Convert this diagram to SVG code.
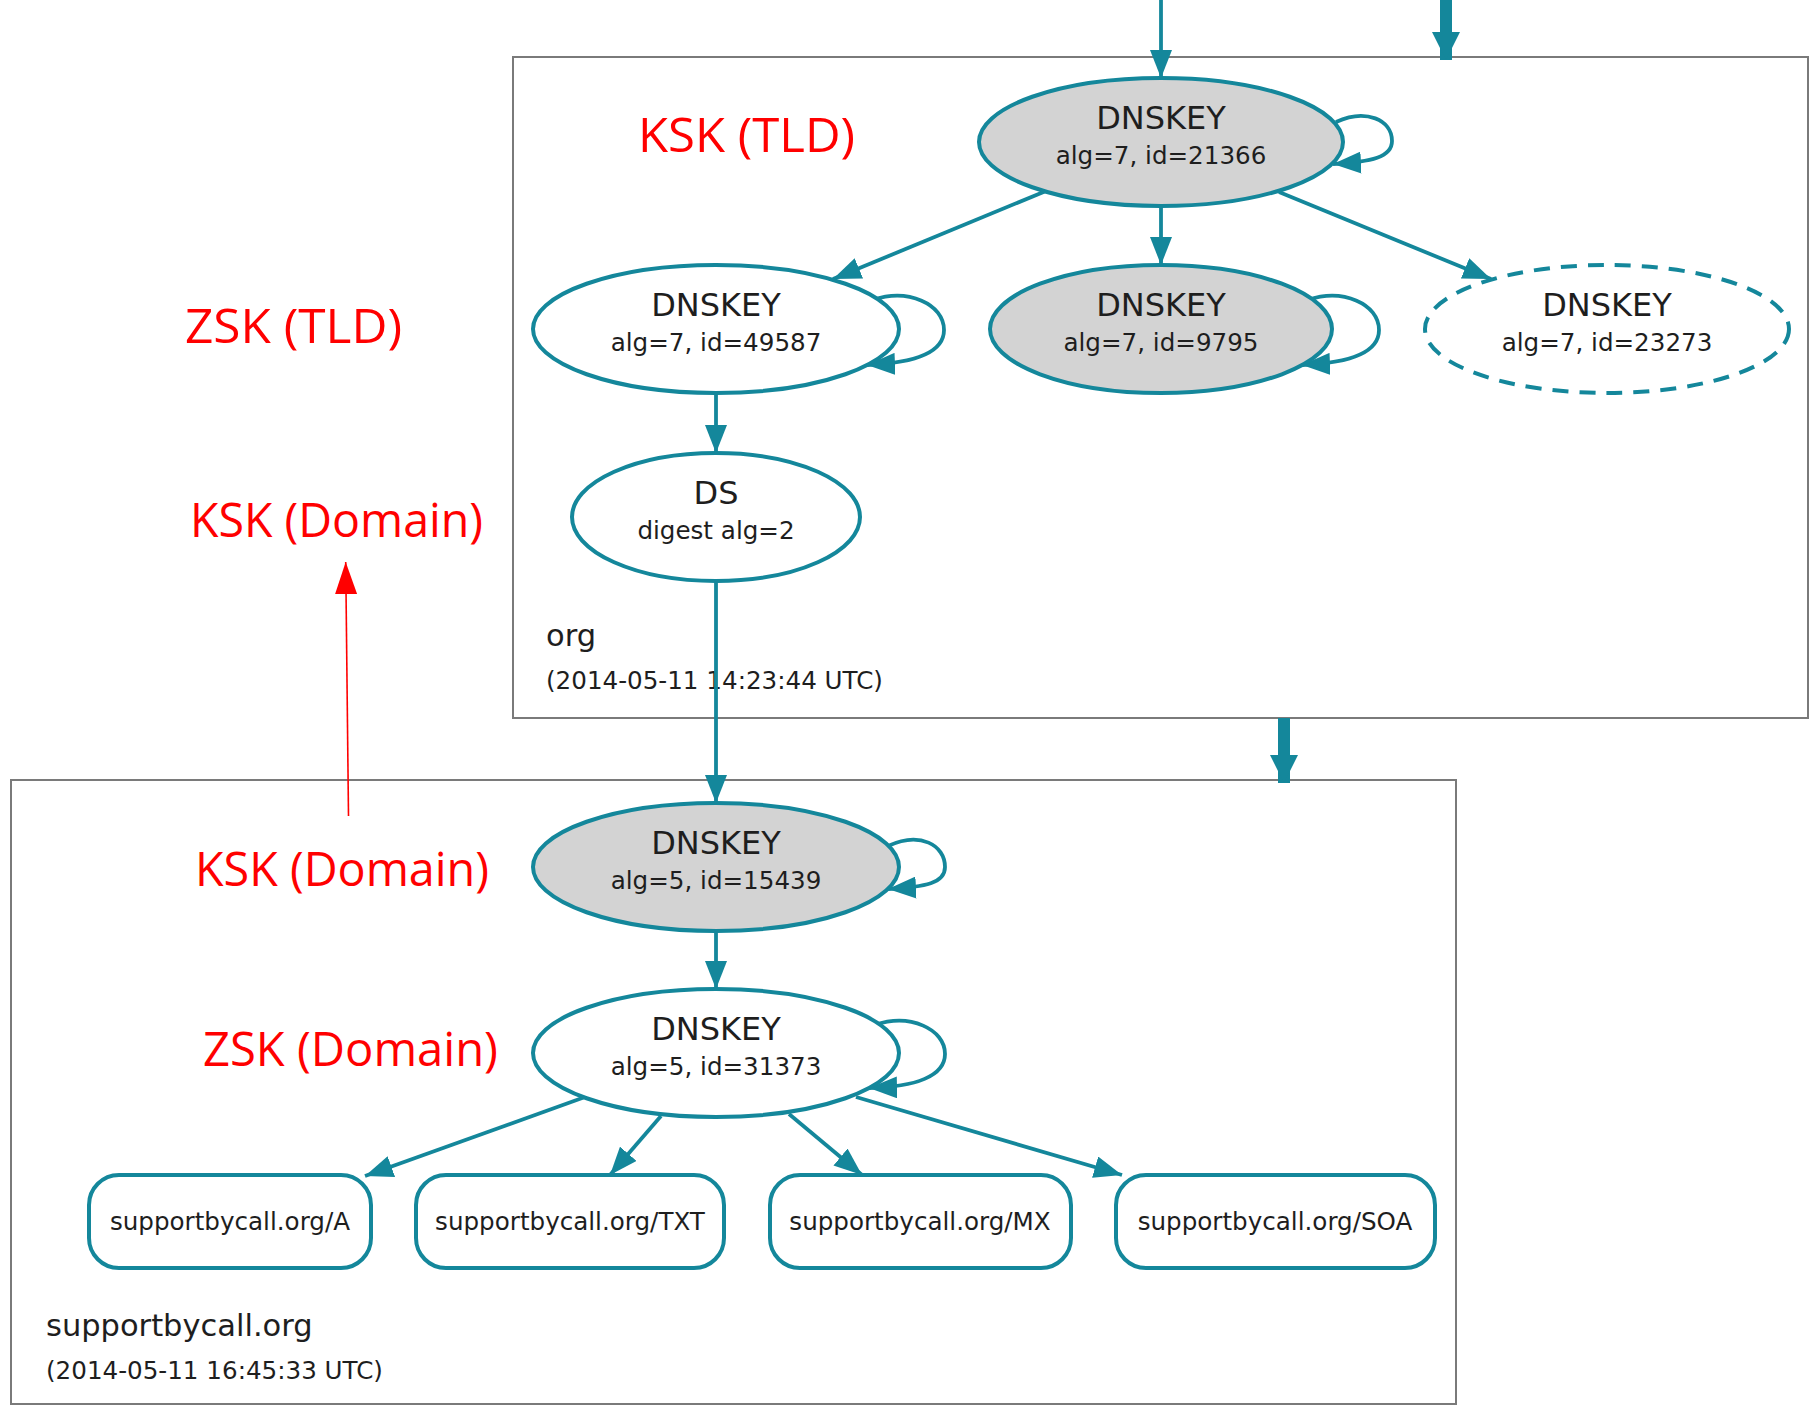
<svg xmlns="http://www.w3.org/2000/svg" width="1810" height="1405" viewBox="0 0 1810 1405">
<style>
  .zone { fill: #ffffff; stroke: #7a7a7a; stroke-width: 2; }
  .el { stroke: #14879b; stroke-width: 4; }
  .gray { fill: #d3d3d3; }
  .white { fill: #ffffff; }
  .dash { stroke-dasharray: 16 11; }
  .rec { fill: #ffffff; stroke: #14879b; stroke-width: 4; }
  .t1 { font-family: "DejaVu Sans", sans-serif; font-size: 32px; fill: #1e1e1e; text-anchor: middle; }
  .t2 { font-family: "DejaVu Sans", sans-serif; font-size: 24.6px; fill: #1e1e1e; text-anchor: middle; }
  .zl { font-family: "DejaVu Sans", sans-serif; font-size: 30.5px; fill: #1e1e1e; }
  .zd { font-family: "DejaVu Sans", sans-serif; font-size: 24.6px; fill: #1e1e1e; }
  .edge { fill: none; stroke: #14879b; stroke-width: 3.8; marker-end: url(#ah); }
  .thick { fill: none; stroke: #14879b; stroke-width: 12; marker-end: url(#ahb); }
  .red { font-family: "Open Sans", "Liberation Sans", sans-serif; font-size: 48px; fill: #ff0000; }
</style>
<defs>
  <marker id="ah" markerUnits="userSpaceOnUse" viewBox="0 0 28 22" markerWidth="28" markerHeight="22" refX="28" refY="11" orient="auto">
    <path d="M0,0 L28,11 L0,22 z" fill="#14879b"/>
  </marker>
  <marker id="ahb" markerUnits="userSpaceOnUse" viewBox="0 0 28 28" markerWidth="28" markerHeight="28" refX="28" refY="14" orient="auto">
    <path d="M0,0 L28,14 L0,28 z" fill="#14879b"/>
  </marker>
  <marker id="rah" markerUnits="userSpaceOnUse" viewBox="0 0 32 22" markerWidth="32" markerHeight="22" refX="32" refY="11" orient="auto">
    <path d="M0,0 L32,11 L0,22 z" fill="#ff0000"/>
  </marker>
</defs>
<rect width="1810" height="1405" fill="#ffffff"/>

<g id="zone-org">
  <rect class="zone" x="513" y="57" width="1295" height="661"/>
  <text class="zl" x="546" y="646">org</text>
  <text class="zd" x="546" y="689">(2014-05-11 14:23:44 UTC)</text>
</g>
<g id="zone-supportbycall">
  <rect class="zone" x="11" y="780" width="1445" height="624"/>
  <text class="zl" x="46" y="1336">supportbycall.org</text>
  <text class="zd" x="46" y="1379">(2014-05-11 16:45:33 UTC)</text>
</g>

<g id="connectors">
  <path class="edge" d="M1161,0 L1161,78"/>
  <path class="thick" d="M1446,0 L1446,60"/>
  <path class="thick" d="M1284,718 L1284,783"/>
  <path class="edge" d="M1046,191 L833,279"/>
  <path class="edge" d="M1161,206 L1161,265"/>
  <path class="edge" d="M1279,192 L1491,279"/>
  <path class="edge" d="M716,393 L716,453"/>
  <path class="edge" d="M716,581 L716,803"/>
  <path class="edge" d="M716,931 L716,989"/>
  <path class="edge" d="M585,1097 L365,1176"/>
  <path class="edge" d="M661,1116 L610,1175"/>
  <path class="edge" d="M789,1114 L862,1175"/>
  <path class="edge" d="M856,1097 L1122,1175"/>
  <!-- self loops -->
  <path class="edge" d="M1336,122 C1366,108 1392,120 1392,141 C1392,157 1372,162 1333,164"/>
  <path class="edge" d="M873,300 C908,288 944,304 944,330 C944,352 915,363 867,365"/>
  <path class="edge" d="M1308,300 C1343,288 1379,304 1379,330 C1379,352 1350,363 1302,365"/>
  <path class="edge" d="M888,846 C920,831 945,845 945,867 C945,883 926,887 888,889"/>
  <path class="edge" d="M875,1025 C910,1013 945,1029 945,1054 C945,1076 916,1087 869,1088"/>
</g>

<g id="node-ksk-tld">
  <ellipse class="el gray" cx="1161" cy="142" rx="182" ry="64"/>
  <text class="t1" x="1161" y="129">DNSKEY</text>
  <text class="t2" x="1161" y="164">alg=7, id=21366</text>
</g>
<g id="node-zsk-tld">
  <ellipse class="el white" cx="716" cy="329" rx="183" ry="64"/>
  <text class="t1" x="716" y="316">DNSKEY</text>
  <text class="t2" x="716" y="351">alg=7, id=49587</text>
</g>
<g id="node-9795">
  <ellipse class="el gray" cx="1161" cy="329" rx="171" ry="64"/>
  <text class="t1" x="1161" y="316">DNSKEY</text>
  <text class="t2" x="1161" y="351">alg=7, id=9795</text>
</g>
<g id="node-23273">
  <ellipse class="el white dash" cx="1607" cy="329" rx="182" ry="64"/>
  <text class="t1" x="1607" y="316">DNSKEY</text>
  <text class="t2" x="1607" y="351">alg=7, id=23273</text>
</g>
<g id="node-ds">
  <ellipse class="el white" cx="716" cy="517" rx="144" ry="64"/>
  <text class="t1" x="716" y="504">DS</text>
  <text class="t2" x="716" y="539">digest alg=2</text>
</g>
<g id="node-ksk-domain">
  <ellipse class="el gray" cx="716" cy="867" rx="183" ry="64"/>
  <text class="t1" x="716" y="854">DNSKEY</text>
  <text class="t2" x="716" y="889">alg=5, id=15439</text>
</g>
<g id="node-zsk-domain">
  <ellipse class="el white" cx="716" cy="1053" rx="183" ry="64"/>
  <text class="t1" x="716" y="1040">DNSKEY</text>
  <text class="t2" x="716" y="1075">alg=5, id=31373</text>
</g>
<g id="node-rr-a">
  <rect class="rec" x="89" y="1175" width="282" height="93" rx="30" ry="30"/>
  <text class="t2" x="230" y="1230">supportbycall.org/A</text>
</g>
<g id="node-rr-txt">
  <rect class="rec" x="416" y="1175" width="308" height="93" rx="30" ry="30"/>
  <text class="t2" x="570" y="1230">supportbycall.org/TXT</text>
</g>
<g id="node-rr-mx">
  <rect class="rec" x="770" y="1175" width="301" height="93" rx="30" ry="30"/>
  <text class="t2" x="920" y="1230">supportbycall.org/MX</text>
</g>
<g id="node-rr-soa">
  <rect class="rec" x="1116" y="1175" width="319" height="93" rx="30" ry="30"/>
  <text class="t2" x="1275" y="1230">supportbycall.org/SOA</text>
</g>

<g id="annotations">
  <text class="red" x="638" y="152" textLength="217" lengthAdjust="spacingAndGlyphs">KSK (TLD)</text>
  <text class="red" x="185" y="343" textLength="217" lengthAdjust="spacingAndGlyphs">ZSK (TLD)</text>
  <text class="red" x="190" y="537" textLength="293" lengthAdjust="spacingAndGlyphs">KSK (Domain)</text>
  <text class="red" x="195" y="886" textLength="294" lengthAdjust="spacingAndGlyphs">KSK (Domain)</text>
  <text class="red" x="203" y="1066" textLength="295" lengthAdjust="spacingAndGlyphs">ZSK (Domain)</text>
  <path d="M348.5,816 L345.7,562" fill="none" stroke="#ff0000" stroke-width="1.6" marker-end="url(#rah)"/>
</g>
</svg>
